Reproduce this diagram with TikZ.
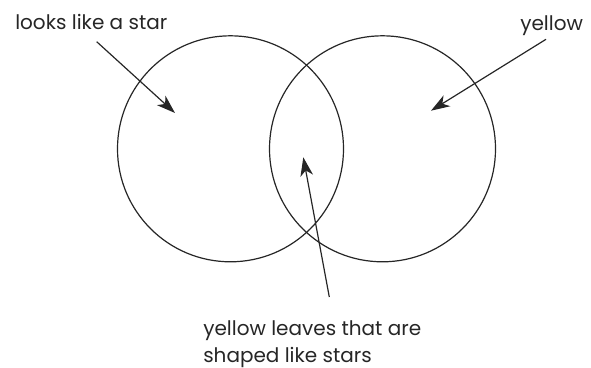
\documentclass[tikz,border=0pt]{standalone}
\usepackage{fontspec}
\setmainfont{Poppins}
\usetikzlibrary{arrows.meta}
\tikzset{
  setcircle/.style={draw=black!85, line width=0.9pt},
  pointer/.style={draw=black!85, line width=0.9pt, -{Stealth[length=14pt,width=9.5pt,inset=4pt]}},
  label/.style={inner sep=0pt, font=\fontsize{15}{20}\selectfont, text=black!85}
}
\begin{document}
\begin{tikzpicture}[x=0.75pt,y=-0.75pt]
\useasboundingbox (0,0) rectangle (591,367);
\draw[setcircle] (230.5,148.8) circle[radius=113] coordinate (lc);
\draw[setcircle] (382.5,148.8) circle[radius=113] coordinate (rc);
\node[label, anchor=base west] (star) at (15,30) {looks like a star};
\node[label, anchor=base west] (yel) at (520,31) {yellow};
\node[label, anchor=base west, align=left] (both) at (203,362) {yellow leaves that are\\shaped like stars};
\coordinate (s1) at (96.7,41.7);
\coordinate (e1) at (175,113);
\coordinate (s2) at (546,39.3);
\coordinate (e2) at (431,110.7);
\coordinate (s3) at (329.3,297);
\coordinate (e3) at (303.3,157.3);
\draw[pointer] (s1) -- (e1);
\draw[pointer] (s2) -- (e2);
\draw[pointer] (s3) -- (e3);
\end{tikzpicture}
\end{document}
